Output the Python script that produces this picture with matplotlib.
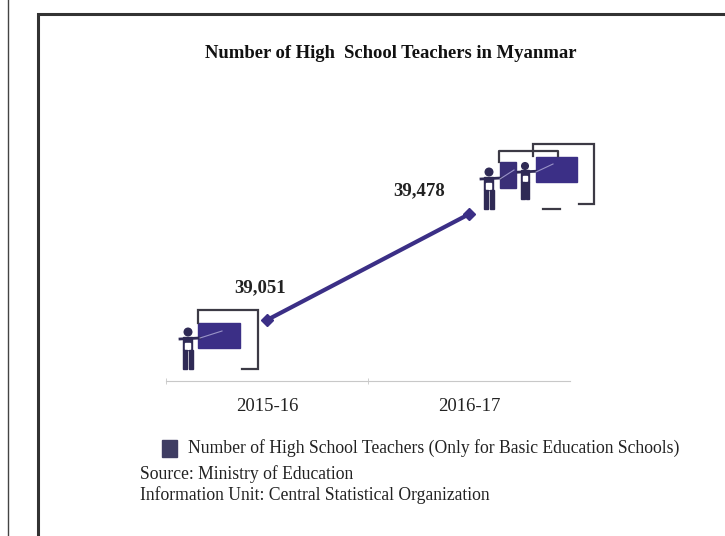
import matplotlib
matplotlib.use("Agg")
import matplotlib.pyplot as plt
from matplotlib.patches import Rectangle, Circle

plt.rcParams["font.family"] = ["Liberation Serif", "DejaVu Serif"]

categories = ["2015-16", "2016-17"]
teachers = [39051, 39478]
value_labels = ["39,051", "39,478"]
legend_text = "Number of High School Teachers (Only for Basic Education Schools)"
source_lines = ["Source: Ministry of Education",
                "Information Unit: Central Statistical Organization"]
title = "Number of High  School Teachers in Myanmar"

W, H = 725, 536
navy = "#3b2f86"
dark = "#3c3a45"
note_size = 12.7

fig = plt.figure(figsize=(W / 100, H / 100), dpi=100)

# overlay in pixel coordinates for frame, icons and notes
bg = fig.add_axes([0, 0, 1, 1])
bg.set_xlim(0, W)
bg.set_ylim(H, 0)
bg.axis("off")


def person(x, y, s=1.0):
    c = "#2f2a55"
    bg.add_patch(Circle((x, y), 3.8 * s, color=c))
    bg.add_patch(Rectangle((x - 4.5 * s, y + 5 * s), 9 * s, 13 * s, color=c))
    bg.add_patch(Rectangle((x - 2.5 * s, y + 11 * s), 5 * s, 6 * s, color="white"))
    bg.add_patch(Rectangle((x - 4.5 * s, y + 18 * s), 4 * s, 19 * s, color=c))
    bg.add_patch(Rectangle((x + 0.8 * s, y + 18 * s), 4 * s, 19 * s, color=c))
    bg.plot([x - 8 * s, x + 12 * s], [y + 7 * s, y + 6 * s], color=c, lw=2)


def bracket(x0, y0, x1, y1, tail, drop):
    bg.plot([x0, x0, x1, x1, x1 - tail], [y0 + drop, y0, y0, y1, y1],
            color=dark, lw=1.6, solid_joinstyle="miter")


# outer page lines
bg.plot([8, 8], [0, H], color="#444444", lw=1)
bg.plot([38.5, 38.5, W], [H, 14, 14], color="#333333", lw=2.2,
        solid_joinstyle="miter")

# left icon
bracket(198, 310, 258, 369, 16, 13)
bg.add_patch(Rectangle((198, 323), 42, 25, color=navy))
person(188, 332)
bg.plot([200, 222], [338, 331], color="#9a94c8", lw=0.8)

# right icon group
bg.plot([499, 499, 558, 558], [162, 151, 151, 156], color=dark, lw=1.6)
bracket(533, 144, 594, 204, 15, 12)
bg.plot([543, 560], [209, 209], color=dark, lw=1.6)
bg.add_patch(Rectangle((500, 162), 16, 26, color="#3a2f78"))
bg.add_patch(Rectangle((536, 157), 41, 25, color=navy))
person(489, 172)
person(525, 166, 0.88)
bg.plot([500, 514], [179, 170], color="#9a94c8", lw=0.8)
bg.plot([536, 553], [172, 164], color="#9a94c8", lw=0.8)

# legend and source notes
bg.add_patch(Rectangle((162, 440), 15, 17, color="#3f3d63"))
bg.text(188, 448, legend_text, fontsize=note_size, va="center", color="#222222")
bg.text(140, 474, source_lines[0], fontsize=note_size, va="center", color="#222222")
bg.text(140, 495, source_lines[1], fontsize=note_size, va="center", color="#222222")
bg.text(391, 53, title, fontsize=13.4, ha="center", va="center", color="#111111",
        fontweight="bold")

# chart
left, right, top, bottom = 166, 570, 60, 381
ax = fig.add_axes([left / W, 1 - bottom / H, (right - left) / W, (bottom - top) / H])
ax.patch.set_alpha(0)
xs = list(range(len(categories)))
ax.plot(xs, teachers, color=navy, lw=3, marker="D", ms=6)
ax.set_xlim(-0.5, 1.5)
ax.set_ylim(38805, 40100)
ax.set_yticks([])
ax.set_xticks(xs)
ax.set_xticklabels(categories, fontsize=13.5, color="#222222")
ax.tick_params(axis="x", length=0, pad=12)
ax.set_xticks([-0.5, 0.5], minor=True)
ax.tick_params(axis="x", which="minor", length=4, color="#c8c8c8", direction="inout")
for s in ["top", "left", "right"]:
    ax.spines[s].set_visible(False)
ax.spines["bottom"].set_color("#c8c8c8")

offsets = [(-7, 32), (-50, 23)]
for x, v, lab, off in zip(xs, teachers, value_labels, offsets):
    ax.annotate(lab, (x, v), xytext=off, textcoords="offset pixels", ha="center",
                va="center", fontsize=13.5, fontweight="bold", color="#222222")

fig.savefig("out.png", dpi=100)
